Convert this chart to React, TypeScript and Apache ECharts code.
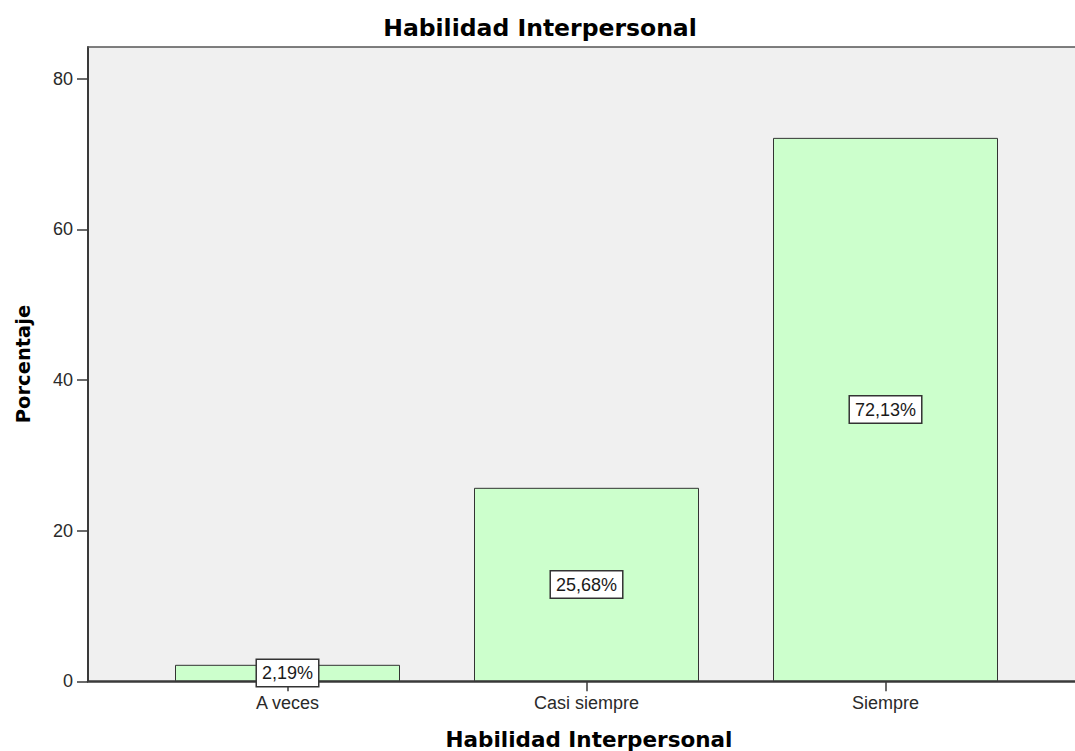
import React, { useEffect, useRef } from "react";
import * as echarts from "echarts";

const categories = ["A veces", "Casi siempre", "Siempre"];
const values = [2.19, 25.68, 72.13];
const yTicks = [0, 20, 40, 60, 80];
const chartTitle = "Habilidad Interpersonal";
const xAxisTitle = "Habilidad Interpersonal";
const yAxisTitle = "Porcentaje";

const Y_MAX = 84.19;

export default function App() {
  const ref = useRef<HTMLDivElement>(null);
  useEffect(() => {
    if (!ref.current) return;
    const chart = echarts.init(ref.current, null, { renderer: "svg" });
    const axisColor = "#3a3a3a";
    const labelFont = "'Liberation Sans', Arial, sans-serif";
    const titleFont = "'DejaVu Sans', sans-serif";
    const hiddenAxisBits = {
      axisTick: { show: false },
      axisLabel: { show: false },
      splitLine: { show: false },
    };
    chart.setOption({
      animation: false,
      backgroundColor: "#ffffff",
      grid: [
        {
          left: 88,
          top: 47,
          width: 1010,
          height: 634.3,
          show: true,
          backgroundColor: "#f0f0f0",
          borderWidth: 0,
          outerBoundsMode: "none",
          containLabel: false,
        },
        {
          left: 138,
          top: 47,
          width: 897,
          height: 634.3,
          show: false,
          outerBoundsMode: "none",
          containLabel: false,
        },
      ],
      xAxis: [
        {
          gridIndex: 0,
          type: "category",
          data: [""],
          position: "bottom",
          axisLine: { show: true, lineStyle: { color: axisColor, width: 2.5 } },
          ...hiddenAxisBits,
        },
        {
          gridIndex: 1,
          type: "category",
          data: categories,
          axisLine: { show: false },
          axisTick: {
            show: true,
            alignWithLabel: true,
            length: 10,
            lineStyle: { color: axisColor, width: 1.5 },
          },
          axisLabel: {
            margin: 13,
            color: "#2a2a2a",
            fontSize: 18,
            fontFamily: labelFont,
          },
          splitLine: { show: false },
        },
        {
          gridIndex: 0,
          type: "category",
          data: [""],
          position: "top",
          axisLine: { show: true, lineStyle: { color: "#555555", width: 1.5 } },
          ...hiddenAxisBits,
        },
      ],
      yAxis: [
        {
          gridIndex: 0,
          type: "value",
          min: 0,
          max: Y_MAX,
          axisLine: { show: true, lineStyle: { color: axisColor, width: 2 } },
          axisTick: {
            show: true,
            length: 11,
            customValues: yTicks,
            lineStyle: { color: axisColor, width: 1.5 },
          },
          axisLabel: {
            customValues: yTicks,
            margin: 15,
            color: "#2a2a2a",
            fontSize: 18,
            fontFamily: labelFont,
          },
          splitLine: { show: false },
        },
        {
          gridIndex: 1,
          type: "value",
          min: 0,
          max: Y_MAX,
          show: false,
          splitLine: { show: false },
        },
      ],
      series: [
        {
          type: "bar",
          xAxisIndex: 1,
          yAxisIndex: 1,
          data: values,
          barWidth: 225,
          itemStyle: {
            color: "#ccffcc",
            borderColor: "#333333",
            borderWidth: 1,
          },
          label: {
            show: true,
            position: "inside",
            formatter: (p: any) => p.value.toFixed(2).replace(".", ",") + "%",
            color: "#1a1a1a",
            fontSize: 18,
            fontFamily: labelFont,
            backgroundColor: "#ffffff",
            borderColor: "#333333",
            borderWidth: 1.5,
            padding: [3, 5, 3, 5],
            lineHeight: 20,
          },
        },
      ],
      graphic: [
        {
          type: "text",
          x: 540,
          y: 28,
          style: {
            text: chartTitle,
            fontFamily: titleFont,
            fontWeight: "bold",
            fontSize: 23.5,
            fill: "#000",
            textAlign: "center",
            textVerticalAlign: "middle",
          },
        },
        {
          type: "text",
          x: 589,
          y: 739,
          style: {
            text: xAxisTitle,
            fontFamily: titleFont,
            fontWeight: "bold",
            fontSize: 21.5,
            fill: "#000",
            textAlign: "center",
            textVerticalAlign: "middle",
          },
        },
        {
          type: "text",
          x: 23,
          y: 364,
          rotation: Math.PI / 2,
          style: {
            text: yAxisTitle,
            fontFamily: titleFont,
            fontWeight: "bold",
            fontSize: 19.5,
            fill: "#000",
            textAlign: "center",
            textVerticalAlign: "middle",
          },
        },
      ],
    });
    return () => chart.dispose();
  }, []);
  return (
    <div
      ref={ref}
      style={{ position: "fixed", left: 0, top: 0, width: 1075, height: 751 }}
    />
  );
}
